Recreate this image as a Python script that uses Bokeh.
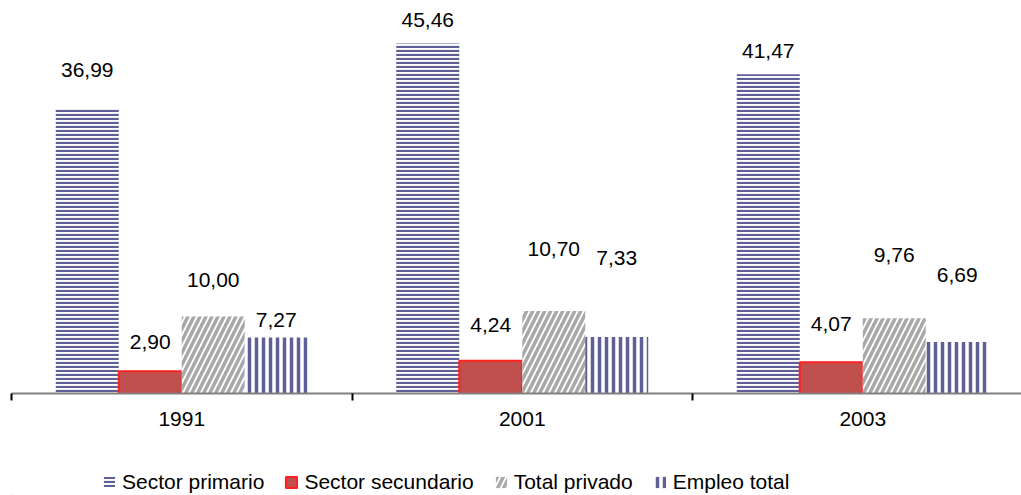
from bokeh.plotting import figure
from bokeh.layouts import column
from bokeh.models import Range1d, FixedTicker, ColumnDataSource, Legend, LegendItem
from bokeh.core.properties import value
from bokeh.embed import file_html
from bokeh.resources import INLINE

years = ["1991", "2001", "2003"]
series = ["Sector primario", "Sector secundario", "Total privado", "Empleo total"]
primario = [36.99, 45.46, 41.47]
secundario = [2.90, 4.24, 4.07]
privado = [10.00, 10.70, 9.76]
empleo = [7.27, 7.33, 6.69]
# label offsets above bar tops (px), per series per year
label_offsets = [
    [39, 23, 23],
    [29, 36, 38],
    [37, 62, 63],
    [18, 79, 67],
]

FONT = "Liberation Sans"
bar_w = 63 / 340.5

p = figure(width=1021, height=440, output_backend="svg",
           toolbar_location=None, x_range=Range1d(0, 1010 / 340.5),
           y_range=Range1d(0, 50), min_border_left=11, min_border_right=0,
           min_border_top=8, min_border_bottom=47)
p.outline_line_color = None
p.grid.visible = False
p.yaxis.visible = False
p.background_fill_color = "white"

styles = [
    dict(fill_color="white", line_color=None, hatch_pattern="horizontal_line",
         hatch_color="#5E5F96", hatch_scale=4, hatch_weight=2.2),
    dict(fill_color="#C0504D", line_color="#FF2020", line_width=2),
    dict(fill_color="white", line_color=None, hatch_pattern="right_diagonal_line",
         hatch_color="#A8A8A8", hatch_scale=12, hatch_weight=3.5),
    dict(fill_color="white", line_color=None, hatch_pattern="vertical_line",
         hatch_color="#5E5F96", hatch_scale=7, hatch_weight=3.5),
]

data = [primario, secundario, privado, empleo]
for k, (name, vals, st) in enumerate(zip(series, data, styles)):
    xs = [i + 0.5 + (k - 1.5) * bar_w for i in range(len(years))]
    src = ColumnDataSource(dict(
        x=xs, top=vals,
        lab=[f"{v:.2f}".replace(".", ",") for v in vals],
        off=[-o for o in label_offsets[k]],
    ))
    p.vbar(x="x", top="top", bottom=0, width=bar_w, source=src, **st)
    p.text(x="x", y="top", text="lab", y_offset="off", source=src,
           text_align="center", text_baseline="middle",
           text_font=value(FONT), text_font_size="21px", text_color="#000000")

ax = p.xaxis[0]
ax.ticker = FixedTicker(ticks=[i + 0.5 for i in range(len(years))],
                        minor_ticks=[0, 1, 2, 3])
ax.major_label_overrides = {i + 0.5: y for i, y in enumerate(years)}
ax.major_tick_out = 0
ax.major_tick_in = 0
ax.minor_tick_out = 7
ax.minor_tick_in = 0
ax.minor_tick_line_color = "#000000"
ax.minor_tick_line_width = 2
ax.axis_line_color = "#808080"
ax.axis_line_width = 2
ax.major_label_text_font = FONT
ax.major_label_text_font_size = "21px"
ax.major_label_text_color = "#000000"
ax.major_label_standoff = 11

# legend strip below the chart (proxy renderers placed outside the visible range)
p2 = figure(width=1021, height=55, output_backend="svg", toolbar_location=None,
            x_range=Range1d(0, 1), y_range=Range1d(0, 1), min_border=0)
p2.outline_line_color = None
p2.grid.visible = False
p2.axis.visible = False
items = []
for name, st in zip(series, styles):
    r = p2.vbar(x=[-5], top=[-4], bottom=-5, width=0.1, **st)
    items.append(LegendItem(label=name, renderers=[r]))
legend = Legend(items=items, orientation="horizontal", location=(91, 1),
                border_line_color=None, background_fill_alpha=0,
                label_text_font=FONT, label_text_font_size="21px",
                label_text_color="#000000", glyph_width=14, glyph_height=14,
                label_standoff=6, spacing=20, padding=0, margin=0)
p2.add_layout(legend, "center")

open("out.html", "w").write(file_html(column(p, p2, spacing=0), INLINE))
